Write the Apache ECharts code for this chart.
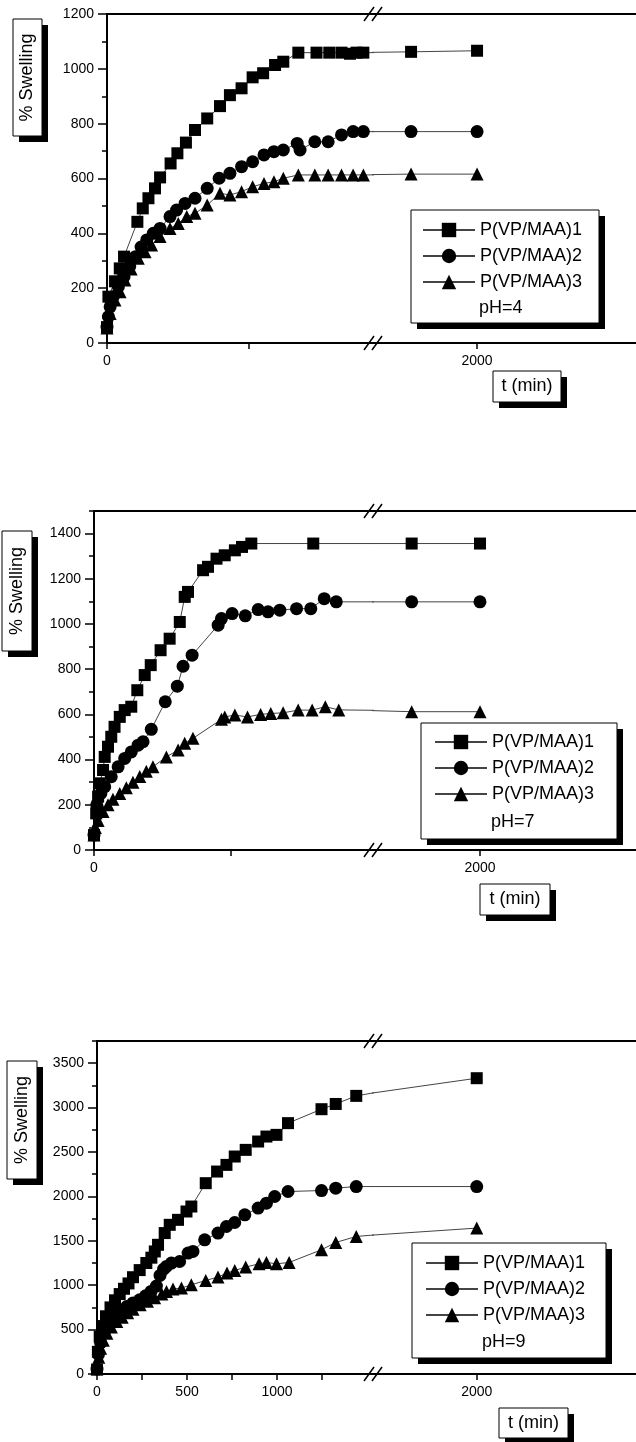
<!DOCTYPE html>
<html><head><meta charset="utf-8">
<script src="https://cdn.jsdelivr.net/npm/echarts@6/dist/echarts.min.js"></script>
<style>html,body{margin:0;padding:0;background:#fff}#c{width:636px;height:1442px}</style>
</head><body><div id="c"></div>
<script>
// ---------------- data ----------------
const seriesNames = ['P(VP/MAA)1', 'P(VP/MAA)2', 'P(VP/MAA)3'];
const phLabels = ['pH=4', 'pH=7', 'pH=9'];
const yTitle = '% Swelling';
const xTitle = 't (min)';

// pH = 4  [t (min), % swelling]
const ph4_s1 = [[0,58],[5,169],[28,225],[45,272],[60,315],[107,442],[126,491],[146,528],[169,564],[187,604],[224,655],[248,692],[278,731],[310,777],[353,819],[398,864],[433,904],[474,929],[513,969],[550,984],[592,1014],[621,1026],[674,1059],[738,1059],[783,1059],[826,1059],[856,1055],[879,1059],[903,1059],[1440,1062],[2000,1066]];
const ph4_s2 = [[0,58],[5,96],[11,132],[22,169],[40,205],[60,242],[80,280],[100,315],[120,350],[140,376],[163,400],[187,418],[222,461],[245,485],[275,509],[310,528],[353,564],[395,601],[433,619],[474,643],[513,661],[553,686],[588,698],[621,704],[670,728],[680,704],[732,734],[779,734],[826,759],[867,771],[903,771],[1440,771],[2000,771]];
const ph4_s3 = [[0,55],[11,108],[28,157],[46,187],[63,230],[85,270],[110,309],[134,333],[157,357],[187,388],[222,418],[251,436],[281,461],[310,473],[353,503],[398,546],[433,540],[474,552],[513,570],[553,582],[588,588],[621,601],[674,613],[732,613],[779,613],[826,613],[867,613],[903,613],[1440,616],[2000,616]];

// pH = 7
const ph7_s1 = [[0,66],[8,162],[15,236],[21,295],[33,354],[39,412],[51,457],[63,501],[75,545],[94,589],[112,619],[136,634],[158,707],[185,774],[207,818],[243,884],[276,935],[313,1009],[331,1120],[343,1142],[398,1238],[416,1253],[447,1289],[477,1304],[514,1326],[540,1341],[574,1356],[800,1356],[1440,1356],[2000,1356]];
const ph7_s2 = [[0,66],[10,200],[25,250],[39,280],[63,324],[88,368],[112,405],[136,434],[161,464],[179,479],[209,534],[260,656],[304,725],[325,813],[358,862],[453,995],[465,1024],[504,1046],[552,1036],[599,1064],[635,1054],[678,1061],[739,1068],[791,1068],[840,1112],[884,1098],[1440,1098],[2000,1098]];
const ph7_s3 = [[0,66],[5,100],[15,130],[33,170],[51,200],[69,225],[94,250],[118,275],[142,300],[167,325],[191,348],[215,368],[264,412],[307,442],[331,472],[361,494],[465,578],[477,589],[514,597],[560,589],[608,600],[645,604],[690,607],[745,619],[796,619],[844,634],[893,620],[1440,612],[2000,612]];

// pH = 9
const ph9_s1 = [[0,50],[5,250],[15,420],[30,540],[50,650],[75,750],[100,830],[126,900],[150,960],[175,1020],[200,1090],[237,1170],[274,1250],[302,1310],[321,1380],[339,1455],[376,1587],[404,1680],[450,1736],[497,1830],[524,1886],[604,2149],[667,2280],[719,2355],[765,2449],[826,2524],[895,2618],[941,2674],[997,2693],[1061,2825],[1247,2982],[1326,3041],[1440,3132],[2000,3331]];
const ph9_s2 = [[0,55],[8,220],[20,350],[40,470],[65,560],[95,640],[130,710],[165,760],[200,800],[237,836],[270,880],[300,930],[330,990],[350,1110],[370,1180],[386,1211],[413,1249],[459,1267],[506,1362],[533,1380],[598,1511],[672,1587],[719,1661],[765,1706],[821,1793],[895,1868],[941,1924],[987,1999],[1061,2055],[1247,2066],[1326,2093],[1440,2111],[2000,2111]];
const ph9_s3 = [[0,60],[10,190],[20,290],[35,380],[55,460],[80,530],[110,590],[140,640],[170,690],[200,730],[240,780],[280,820],[320,860],[360,900],[386,930],[422,957],[469,968],[524,1005],[604,1053],[672,1092],[722,1137],[765,1166],[826,1204],[900,1241],[941,1256],[997,1241],[1067,1256],[1247,1399],[1326,1481],[1440,1549],[2000,1643]];

const panelData = [[ph4_s1, ph4_s2, ph4_s3], [ph7_s1, ph7_s2, ph7_s3], [ph9_s1, ph9_s2, ph9_s3]];

// axis scales
const yMax = [1200, 1500, 3750];
const yMajorTicks = [[0,200,400,600,800,1000,1200],[0,200,400,600,800,1000,1200,1400],[0,500,1000,1500,2000,2500,3000,3500]];
const yMinorTicks = [[100,300,500,700,900,1100],[100,300,500,700,900,1100,1300,1500],[250,750,1250,1750,2250,2750,3250,3750]];
const xLeftMax = [937, 1018, 1533];
const xRightRange = [[1117, 3349], [1123, 3279], [1533, 2717]];
const xLeftTicks = [[0,500],[0,500],[0,250,500,750,1000,1250]];
const xLeftLabels = [[0],[0],[0,500,1000]];
const xRightTicks = [2000];

// ---------------- layout ----------------
const BREAK_X = 373;
const layout = [
  {gx:107, top:14, bottom:343, lbox:[411,210,188,113], lLeft:422, lTop:221, ph:[479,308], ybox:[13,19,29,117], xbox:[493,371,68,31]},
  {gx:94, top:511, bottom:850, lbox:[421,723,196,116], lLeft:434, lTop:733, ph:[491,822], ybox:[2,531,30,120], xbox:[480,884,70,31]},
  {gx:97, top:1041, bottom:1374, lbox:[412,1243,194,115], lLeft:425, lTop:1254, ph:[482,1342], ybox:[7,1061,30,118], xbox:[499,1408,69,30]}
];
const FONT = 'Liberation Sans, Arial, sans-serif';
const symbols = ['rect', 'circle', 'triangle'];
const symSizes = [12, 13, 13];
const plain = v => String(v);

const grid = [], xAxis = [], yAxis = [], series = [], legend = [], graphic = [];
const lineAx = {show:true, onZero:false, lineStyle:{color:'#000', width:2}};

layout.forEach((L, i) => {
  const h = L.bottom - L.top;
  grid.push({left:L.gx, top:L.top, width:BREAK_X - L.gx, height:h});
  grid.push({left:BREAK_X, top:L.top, width:636 - BREAK_X, height:h});
  const gl = 2*i, gr = 2*i+1;
  // x axes: left bottom, right bottom, left top, right top
  xAxis.push({type:'value', gridIndex:gl, min:0, max:xLeftMax[i], axisLine:lineAx, splitLine:{show:false},
    axisTick:{show:true, customValues:xLeftTicks[i], length:6, lineStyle:{color:'#000', width:1.5}},
    axisLabel:{customValues:xLeftLabels[i], formatter:plain, fontSize:14, fontFamily:FONT, color:'#000', margin:11}});
  xAxis.push({type:'value', gridIndex:gr, min:xRightRange[i][0], max:xRightRange[i][1], axisLine:lineAx, splitLine:{show:false},
    axisTick:{show:true, customValues:xRightTicks, length:6, lineStyle:{color:'#000', width:1.5}},
    axisLabel:{customValues:xRightTicks, formatter:plain, fontSize:14, fontFamily:FONT, color:'#000', margin:11}});
  xAxis.push({type:'value', gridIndex:gl, position:'top', min:0, max:xLeftMax[i], axisLine:lineAx,
    axisTick:{show:false}, axisLabel:{show:false}, splitLine:{show:false}});
  xAxis.push({type:'value', gridIndex:gr, position:'top', min:xRightRange[i][0], max:xRightRange[i][1], axisLine:lineAx,
    axisTick:{show:false}, axisLabel:{show:false}, splitLine:{show:false}});
  // y axes: left main, left minor ticks, right hidden
  yAxis.push({type:'value', gridIndex:gl, min:0, max:yMax[i], axisLine:lineAx, splitLine:{show:false},
    axisTick:{show:true, customValues:yMajorTicks[i], length:9, lineStyle:{color:'#000', width:1.5}},
    axisLabel:{customValues:yMajorTicks[i], formatter:plain, fontSize:14, fontFamily:FONT, color:'#000', margin:13}});
  yAxis.push({type:'value', gridIndex:gl, min:0, max:yMax[i], position:'left', offset:0, axisLine:{show:false, onZero:false}, splitLine:{show:false},
    axisTick:{show:true, customValues:yMinorTicks[i], length:5, lineStyle:{color:'#000', width:1.5}},
    axisLabel:{show:false}});
  yAxis.push({type:'value', gridIndex:gr, min:0, max:yMax[i], show:false, axisLine:{onZero:false}});

  panelData[i].forEach((d, k) => {
    const base = {type:'line', name:seriesNames[k], data:d, symbol:symbols[k], symbolSize:symSizes[k],
      clip:true, animation:false, itemStyle:{color:'#000'}, lineStyle:{color:'#444', width:1}, z:2};
    series.push(Object.assign({}, base, {xAxisIndex:4*i, yAxisIndex:3*i}));
    series.push(Object.assign({}, base, {xAxisIndex:4*i+1, yAxisIndex:3*i+2}));
  });

  legend.push({data:seriesNames, orient:'vertical', left:L.lLeft, top:L.lTop, itemWidth:52, itemHeight:18, itemGap:8,
    padding:0, selectedMode:false, z:6,
    textStyle:{fontSize:18, fontFamily:FONT, color:'#000', padding:[0,0,0,0]}});

  const boxed = (b, z) => [
    {type:'rect', shape:{x:b[0]+6, y:b[1]+6, width:b[2], height:b[3]}, style:{fill:'#000'}, z:z, silent:true},
    {type:'rect', shape:{x:b[0], y:b[1], width:b[2], height:b[3]}, style:{fill:'#fff', stroke:'#000', lineWidth:1}, z:z+0.1, silent:true}
  ];
  graphic.push(...boxed(L.lbox, 3));
  graphic.push({type:'text', x:L.ph[0], y:L.ph[1], z:7,
    style:{text:phLabels[i], fontSize:18, fontFamily:FONT, fill:'#000', align:'left', verticalAlign:'middle', textAlign:'left', textVerticalAlign:'middle'}});
  graphic.push(...boxed(L.ybox, 5));
  graphic.push({type:'text', x:L.ybox[0] + L.ybox[2]/2, y:L.ybox[1] + L.ybox[3]/2, rotation:Math.PI/2, z:7,
    style:{text:yTitle, fontSize:18, fontFamily:FONT, fill:'#000', align:'center', verticalAlign:'middle', textAlign:'center', textVerticalAlign:'middle'}});
  graphic.push(...boxed(L.xbox, 5));
  graphic.push({type:'text', x:L.xbox[0] + L.xbox[2]/2, y:L.xbox[1] + L.xbox[3]/2, z:7,
    style:{text:xTitle, fontSize:18, fontFamily:FONT, fill:'#000', align:'center', verticalAlign:'middle', textAlign:'center', textVerticalAlign:'middle'}});
  // axis break marks
  [L.top, L.bottom].forEach(yy => {
    [-4, 4].forEach(dx => {
      graphic.push({type:'line', z:10, silent:true,
        shape:{x1:BREAK_X + dx - 5, y1:yy + 7, x2:BREAK_X + dx + 5, y2:yy - 7}, style:{stroke:'#000', lineWidth:1.5}});
    });
  });
});

const chart = echarts.init(document.getElementById('c'), null, {renderer:'canvas'});
chart.setOption({animation:false, backgroundColor:'#fff', grid, xAxis, yAxis, series, legend, graphic});
</script>
</body></html>
